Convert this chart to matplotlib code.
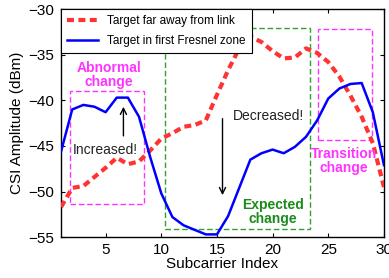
import matplotlib
matplotlib.use("Agg")
import matplotlib.pyplot as plt
import matplotlib.patches as mpatches

plt.rcParams.update({
    "font.family": ["Liberation Sans", "DejaVu Sans"],
    "font.size": 11,
    "lines.scale_dashes": False,
    "xtick.direction": "in",
    "ytick.direction": "in",
    "xtick.top": True,
    "ytick.right": True,
    "figure.facecolor": "white",
})

subcarrier = list(range(1, 31))
far_from_link = [-51.7, -49.6, -49.4, -48.4, -47.4, -46.3, -47.0, -46.7, -45.5, -44.2,
                 -43.6, -42.9, -42.7, -42.2, -39.4, -36.7, -34.3, -33.0, -33.6, -34.6,
                 -35.4, -35.3, -34.3, -34.8, -35.8, -37.4, -39.5, -41.8, -44.7, -49.5]
fresnel_zone = [-45.6, -41.0, -40.5, -40.7, -41.3, -39.7, -39.7, -41.8, -46.2, -50.2,
                -52.8, -53.7, -54.2, -54.7, -54.7, -52.7, -49.6, -46.5, -45.8, -45.4,
                -45.8, -45.1, -44.0, -42.2, -39.8, -38.7, -38.2, -38.1, -41.3, -47.1]

# highlighted regions: (x0, x1, y0, y1)
abnormal_box = (1.8, 8.45, -51.4, -39.0)
expected_box = (10.35, 23.4, -54.15, -32.1)
transition_box = (24.1, 28.9, -44.4, -32.2)

MAGENTA = "#ff33ff"
GREEN = "#33a033"

fig = plt.figure(figsize=(3.89, 2.78), dpi=100)
ax = fig.add_axes([0.157, 0.147, 0.830, 0.820])

ax.plot(subcarrier, far_from_link, color="#ff3333", linewidth=3.0,
        dashes=(5, 3.2), label="Target far away from link", zorder=3)
ax.plot(subcarrier, fresnel_zone, color="#0000ff", linewidth=1.8,
        label="Target in first Fresnel zone", zorder=4)


def draw_box(box, color):
    x0, x1, y0, y1 = box
    rect = mpatches.Rectangle((x0, y0), x1 - x0, y1 - y0, fill=False,
                              edgecolor=color, linewidth=1.0,
                              linestyle=(0, (4, 2)), zorder=2)
    ax.add_patch(rect)


draw_box(abnormal_box, MAGENTA)
draw_box(expected_box, GREEN)
draw_box(transition_box, MAGENTA)

ax.text(5.3, -37.2, "Abnormal\nchange", color=MAGENTA, fontsize=10,
        fontweight="bold", ha="center", va="center", linespacing=1.0)
ax.text(20.0, -52.2, "Expected\nchange", color="#1a8c1a", fontsize=10,
        fontweight="bold", ha="center", va="center", linespacing=1.0)
ax.text(26.4, -46.7, "Transition\nchange", color=MAGENTA, fontsize=10,
        fontweight="bold", ha="center", va="center", linespacing=1.0)

ax.text(5.0, -45.4, "Increased!", fontsize=10, ha="center", va="center", color="#222222")
ax.annotate("", xy=(6.6, -40.4), xytext=(6.6, -44.2),
            arrowprops=dict(arrowstyle="->", color="black", lw=1.0))
ax.text(19.6, -41.7, "Decreased!", fontsize=10, ha="center", va="center", color="#222222")
ax.annotate("", xy=(15.5, -50.7), xytext=(15.5, -41.7),
            arrowprops=dict(arrowstyle="->", color="black", lw=1.0))

ax.set_xlim(1, 30)
ax.set_ylim(-55, -30)
ax.set_xticks([5, 10, 15, 20, 25, 30])
ax.set_yticks([-55, -50, -45, -40, -35, -30])
ax.tick_params(length=3, width=0.8, labelsize=11)
ax.tick_params(axis="y", pad=5)
ax.tick_params(axis="x", pad=4)
for s in ax.spines.values():
    s.set_linewidth(1.0)
ax.set_xlabel("Subcarrier Index", fontsize=11, labelpad=0)
ax.set_ylabel("CSI Amplitude (dBm)", fontsize=11, labelpad=3)

leg = ax.legend(loc="upper left", bbox_to_anchor=(0, 1), borderaxespad=0,
                fontsize=8.5, fancybox=False, framealpha=1, edgecolor="black",
                handlelength=2.6, borderpad=0.5, labelspacing=0.7)
leg.get_frame().set_linewidth(0.8)
leg.set_zorder(5)

fig.savefig("out.png", dpi=100)
